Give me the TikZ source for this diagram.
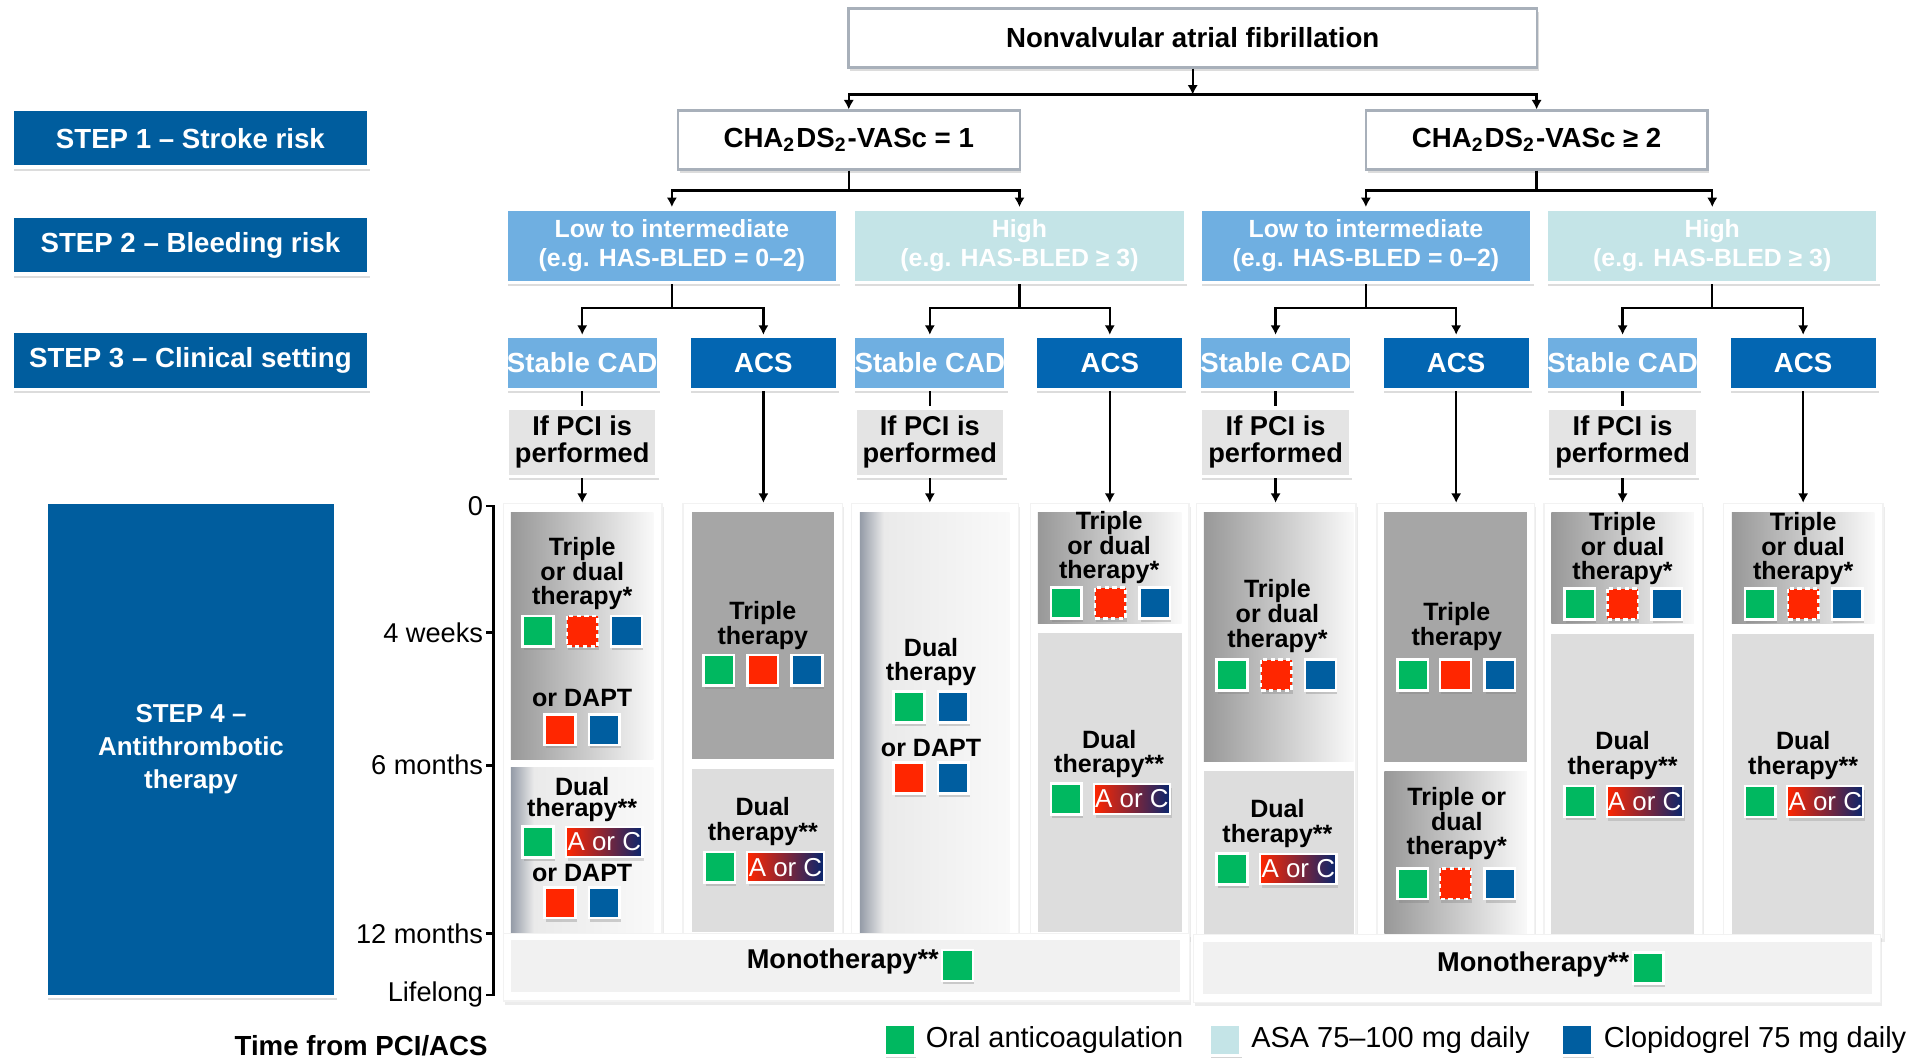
\documentclass[tikz,border=0pt]{standalone}
\usepackage{fontspec}
\setmainfont{Liberation Sans}
\usetikzlibrary{arrows.meta,shadows}

\definecolor{stepblue}{RGB}{0,93,158}
\definecolor{acsblue}{RGB}{3,102,178}
\definecolor{lowblue}{RGB}{111,175,225}
\definecolor{highcyan}{RGB}{196,228,231}
\definecolor{pcigray}{RGB}{228,228,228}
\definecolor{boxline}{RGB}{168,176,186}
\definecolor{oacgreen}{RGB}{0,184,96}
\definecolor{asared}{RGB}{255,38,0}
\definecolor{clopblue}{RGB}{0,94,160}
\definecolor{acnavy}{RGB}{8,38,110}
\definecolor{tripgray}{RGB}{166,166,166}
\definecolor{tripdark}{RGB}{152,152,152}
\definecolor{dualgray}{RGB}{221,221,221}
\definecolor{edgegray}{RGB}{148,155,167}
\definecolor{fadegray}{RGB}{234,234,234}
\definecolor{fadewhite}{RGB}{249,249,249}
\definecolor{monogray}{RGB}{241,241,241}

\newcommand{\setfs}[2]{\fontsize{#1pt}{#2pt}\selectfont}
\pgfdeclarehorizontalshading{edgefade}{100bp}{color(0bp)=(edgegray); color(25bp)=(edgegray); color(33bp)=(fadegray); color(75bp)=(fadewhite); color(100bp)=(fadewhite)}
\newcommand{\drug}[3]{\begin{scope}[shift={(#1,#2)}]\path[drugsq,fill=#3] (-12.5,-12.5) rectangle (12.5,12.5);\end{scope}}
\newcommand{\drugopt}[2]{\begin{scope}[shift={(#1,#2)}]\path[drugsq,fill=asared,dash pattern=on 1pt off 0.8pt] (-12.5,-12.5) rectangle (12.5,12.5);\end{scope}}

\tikzset{
  softshadow/.style={drop shadow={shadow xshift=0.4pt,shadow yshift=-0.9pt,opacity=0.28}},
  stepbox/.style={fill=stepblue,draw=white,line width=0.8pt,text=white,align=center,inner sep=0pt,
    font=\setfs{6.4}{7.7}\bfseries,softshadow},
  whitebox/.style={fill=white,draw=boxline,line width=0.5pt,inner sep=0pt,font=\setfs{6.4}{7}\bfseries,
    minimum height=0.48cm,softshadow},
  riskbox/.style={draw=white,line width=0.8pt,text=white,align=center,inner sep=0pt,
    font=\setfs{5.75}{6.6}\bfseries,minimum width=2.7cm,minimum height=0.6cm,softshadow},
  cadbox/.style={fill=lowblue,draw=white,line width=0.8pt,text=white,inner sep=0pt,
    font=\setfs{6.4}{7}\bfseries,minimum width=1.24cm,minimum height=0.43cm,softshadow},
  acsbox/.style={cadbox,fill=acsblue,minimum width=1.21cm},
  pcibox/.style={fill=pcigray,draw=white,line width=0.8pt,align=center,inner sep=0pt,
    font=\setfs{6.3}{6.3}\bfseries,minimum width=1.22cm,minimum height=0.56cm,softshadow},
  frame/.style={fill=white,draw=black!5,line width=0.3pt,inner sep=0pt,
    drop shadow={shadow xshift=0.4pt,shadow yshift=-0.8pt,opacity=0.15}},
  ptxt/.style={align=center,inner sep=0pt,font=\setfs{5.8}{5.7}\bfseries},
  aorc/.style={left color=asared,right color=acnavy,draw=white,line width=0.5pt,text=white,inner sep=0pt,
    font=\setfs{6}{6},minimum width=0.62cm,minimum height=0.25cm,softshadow},
  drugsq/.style={draw=white,line width=0.6pt,drop shadow={shadow xshift=0.3pt,shadow yshift=-0.8pt,opacity=0.35}},
  tick/.style={anchor=east,inner sep=0pt,font=\setfs{6.3}{7}},
  legtxt/.style={anchor=west,inner sep=0pt,font=\setfs{6.7}{8}},
  line/.style={line width=0.55pt},
  arr/.style={line width=0.55pt,->},
  axis/.style={line width=0.6pt}
}

\begin{document}
\begin{tikzpicture}[x=0.01cm,y=-0.01cm,>={Latex[length=2.2pt,width=2.4pt]}]
  \useasboundingbox (0,0) rectangle (1568,861);

  % steps, left
  \node[stepbox,minimum width=2.9cm,minimum height=0.47cm] (s1) at (155,112.5) {STEP 1 – Stroke risk};
  \node[stepbox,minimum width=2.9cm,minimum height=0.47cm] (s2) at (155,199.5) {STEP 2 – Bleeding risk};
  \node[stepbox,minimum width=2.9cm,minimum height=0.47cm] (s3) at (155,293.5) {STEP 3 – Clinical setting};
  \node[stepbox,minimum width=2.35cm,minimum height=4.02cm,font=\setfs{6}{7.7}\bfseries] (s4) at (155.5,610)
    {STEP 4 –\\Antithrombotic\\therapy};

  % stroke risk
  \node[whitebox,minimum width=5.6cm] (top) at (971,31) {Nonvalvular atrial fibrillation};
  \node[whitebox,minimum width=2.78cm] (cha1) at (691,114) {CHA\textsubscript{2}DS\textsubscript{2}-VASc = 1};
  \node[whitebox,minimum width=2.78cm] (cha2) at (1251,114) {CHA\textsubscript{2}DS\textsubscript{2}-VASc ≥ 2};
  \coordinate (b0) at (971,77);
  \draw[arr] (top) -- (b0);
  \draw[arr] (b0) -| (cha1);
  \draw[arr] (b0) -| (cha2);

  % bleeding risk
  \node[riskbox,fill=lowblue] (low1) at (547,200) {Low to intermediate\\(e.g. HAS-BLED = 0–2)};
  \node[riskbox,fill=highcyan] (high1) at (830,200) {High\\(e.g. HAS-BLED ≥ 3)};
  \node[riskbox,fill=lowblue] (low2) at (1112,200) {Low to intermediate\\(e.g. HAS-BLED = 0–2)};
  \node[riskbox,fill=highcyan] (high2) at (1394,200) {High\\(e.g. HAS-BLED ≥ 3)};
  \foreach \c/\k in {cha1/691,cha2/1251} {
    \coordinate (bc\k) at (\k,155);
    \draw[line] (\c) -- (bc\k);
  }
  \draw[arr] (bc691) -| (low1);  \draw[arr] (bc691) -| (high1);
  \draw[arr] (bc1251) -| (low2); \draw[arr] (bc1251) -| (high2);

  % therapy frames
  \node[frame,minimum width=1.29cm,minimum height=3.54cm] (fc1) at (474.5,587) {};
  \node[frame,minimum width=1.30cm,minimum height=3.54cm] (fa1) at (621,587) {};
  \node[frame,minimum width=1.36cm,minimum height=3.54cm] (fc2) at (761,587) {};
  \node[frame,minimum width=1.29cm,minimum height=3.54cm] (fa2) at (903.5,587) {};
  \node[frame,minimum width=1.30cm,minimum height=3.54cm] (fc3) at (1039,587) {};
  \node[frame,minimum width=1.28cm,minimum height=3.54cm] (fa3) at (1185,587) {};
  \node[frame,minimum width=1.29cm,minimum height=3.54cm] (fc4) at (1321.5,587) {};
  \node[frame,minimum width=1.30cm,minimum height=3.54cm] (fa4) at (1468,587) {};
  \node[frame,minimum width=5.58cm,minimum height=0.55cm] (fm1) at (689,787.5) {};
  \node[frame,minimum width=5.59cm,minimum height=0.55cm] (fm2) at (1251.5,788.5) {};

  % clinical setting
  \foreach \i/\r/\rn/\s/\a in {1/547/low1/474/621.5, 2/830/high1/757/903.5,
                               3/1112/low2/1038.5/1185.5, 4/1394/high2/1321/1468} {
    \node[cadbox] (sc\i) at (\s,295.5) {Stable CAD};
    \node[acsbox] (acs\i) at (\a,295.5) {ACS};
    \node[pcibox] (pci\i) at (\s,360) {If PCI is\\performed};
    \coordinate (b\i) at (\r,251);
    \draw[line] (\rn) -- (b\i);
    \draw[arr] (b\i) -| (sc\i);
    \draw[arr] (b\i) -| (acs\i);
    \draw[line] (sc\i) -- (pci\i);
    \draw[arr] (pci\i) -- (pci\i |- fc\i.north);
    \draw[arr] (acs\i) -- (acs\i |- fa\i.north);
  }

  % panels
  \shade[left color=tripdark,right color=fadewhite] (416,417) rectangle (532,618);
  \shade[shading=edgefade] (416,625) rectangle (532,759);
  \fill[tripgray] (563,417) rectangle (679,618);
  \fill[dualgray] (563,626) rectangle (679,759);
  \shade[shading=edgefade] (700,417) rectangle (822,759);
  \shade[left color=tripdark,right color=fadewhite] (845,417) rectangle (962,508);
  \fill[dualgray] (845,515) rectangle (962,759);
  \shade[left color=tripdark,right color=fadewhite] (980,417) rectangle (1102,620);
  \fill[dualgray] (980,628) rectangle (1102,760);
  \fill[tripgray] (1127,417) rectangle (1243,620);
  \shade[left color=tripdark,right color=fadewhite] (1127,628) rectangle (1243,760);
  \foreach \l in {1263,1410} {
    \shade[left color=tripdark,right color=fadewhite] (\l,417) rectangle (\l+116,508);
    \fill[dualgray] (\l,516) rectangle (\l+116,760);
  }
  \fill[monogray] (416,765) rectangle (961,808);
  \fill[monogray] (979,767) rectangle (1524,809);

  % column 1
  \node[ptxt] (u1) at (474,467) {Triple\\or dual\\therapy*};
  \drug{438}{514}{oacgreen} \drugopt{474}{514} \drug{510}{514}{clopblue}
  \node[ptxt] (u1b) at (474,568) {or DAPT};
  \drug{456}{594}{asared} \drug{492}{594}{clopblue}
  \node[ptxt,font=\setfs{5.8}{4.9}\bfseries] (l1) at (474,651) {Dual\\therapy**};
  \drug{438}{685.5}{oacgreen} \node[aorc] (ac1) at (492,685.5) {A or C};
  \node[ptxt] (l1b) at (474,711) {or DAPT};
  \drug{456}{735}{asared} \drug{492}{735}{clopblue}

  % column 2
  \node[ptxt] (u2) at (621,509.5) {Triple\\therapy};
  \drug{585}{545.6}{oacgreen} \drug{621}{545.6}{asared} \drug{657}{545.6}{clopblue}
  \node[ptxt] (l2) at (621,669) {Dual\\therapy**};
  \drug{586}{706}{oacgreen} \node[aorc] (ac2) at (639.5,706) {A or C};

  % column 3
  \node[ptxt] (u3) at (758,539) {Dual\\therapy};
  \drug{740}{575.5}{oacgreen} \drug{776}{575.5}{clopblue}
  \node[ptxt] (u3b) at (758,609) {or DAPT};
  \drug{740}{633.5}{asared} \drug{776}{633.5}{clopblue}

  % column 4
  \node[ptxt] (u4) at (903,446) {Triple\\or dual\\therapy*};
  \drug{868}{491}{oacgreen} \drugopt{904}{491} \drug{940}{491}{clopblue}
  \node[ptxt] (l4) at (903,614) {Dual\\therapy**};
  \drug{868}{650.5}{oacgreen} \node[aorc] (ac4) at (921.5,650.5) {A or C};

  % column 5
  \node[ptxt] (u5) at (1040,501.6) {Triple\\or dual\\therapy*};
  \drug{1003}{549.6}{oacgreen} \drugopt{1039}{549.6} \drug{1075}{549.6}{clopblue}
  \node[ptxt] (l5) at (1040,670.5) {Dual\\therapy**};
  \drug{1003}{707.5}{oacgreen} \node[aorc] (ac5) at (1057,707.5) {A or C};

  % column 6
  \node[ptxt] (u6) at (1186,510) {Triple\\therapy};
  \drug{1150}{549.6}{oacgreen} \drug{1185}{549.6}{asared} \drug{1221}{549.6}{clopblue}
  \node[ptxt] (l6) at (1186,670.6) {Triple or\\dual\\therapy*};
  \drug{1150}{719.5}{oacgreen} \drugopt{1185}{719.5} \drug{1221}{719.5}{clopblue}

  % columns 7 and 8
  \foreach \c/\n in {1321/7,1468/8} {
    \node[ptxt] (u\n) at (\c,446.6) {Triple\\or dual\\therapy*};
    \drug{\c-35}{491.8}{oacgreen} \drugopt{\c}{491.8} \drug{\c+36}{491.8}{clopblue}
    \node[ptxt] (l\n) at (\c,615) {Dual\\therapy**};
    \drug{\c-35}{652.5}{oacgreen} \node[aorc] (ac\n) at (\c+18,652.5) {A or C};
  }

  % monotherapy
  \node[ptxt,font=\setfs{6.3}{7}\bfseries,anchor=east] (mono1) at (765,783) {Monotherapy**};
  \drug{779.5}{786}{oacgreen}
  \node[ptxt,font=\setfs{6.3}{7}\bfseries,anchor=east] (mono2) at (1327,785) {Monotherapy**};
  \drug{1342}{788}{oacgreen}

  % time axis
  \draw[axis] (396,412) -- (402,412) -- (402,810) -- (396,810);
  \foreach \y in {515,623,760} \draw[axis] (396,\y) -- (402,\y);
  \foreach \y/\lab/\n in {412/0/tm0,515/4 weeks/tm1,623/6 months/tm2,760/12 months/tm3,810/Lifelong/tm4}
    \node[tick] (\n) at (394,\y) {\lab};
  \node[inner sep=0pt,font=\setfs{6.4}{7}\bfseries] (tlab) at (294,851) {Time from PCI/ACS};

  % legend
  \drug{732.5}{847}{oacgreen}  \node[legtxt] (lg1) at (753,847) {Oral anticoagulation};
  \drug{997.5}{847}{highcyan}  \node[legtxt] (lg2) at (1018,847) {ASA 75–100 mg daily};
  \drug{1284}{847}{clopblue}   \node[legtxt] (lg3) at (1305,847) {Clopidogrel 75 mg daily};
\end{tikzpicture}
\end{document}
